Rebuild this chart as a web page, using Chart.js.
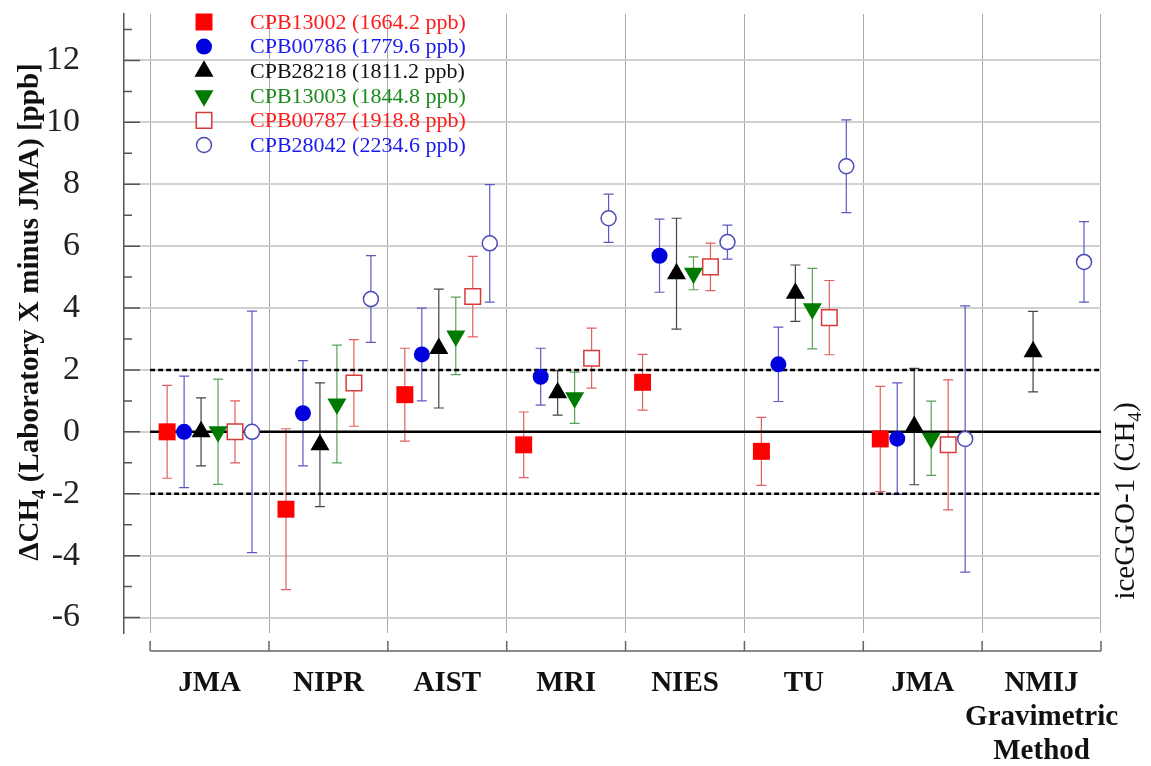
<!DOCTYPE html>
<html>
<head>
<meta charset="utf-8">
<script src="https://cdn.jsdelivr.net/npm/chart.js@4.4.1/dist/chart.umd.min.js"></script>
<style>
  html, body { margin: 0; padding: 0; background: #fff; }
  #wrap { width: 1151px; height: 766px; }
</style>
</head>
<body>
<div id="wrap"><canvas id="chart" width="1151" height="766"></canvas></div>
<script>
// Categories (laboratories) and axis ticks
const groupLabels = [['JMA'], ['NIPR'], ['AIST'], ['MRI'], ['NIES'], ['TU'], ['JMA'], ['NMIJ', 'Gravimetric', 'Method']];
const yTickValues = [-6, -4, -2, 0, 2, 4, 6, 8, 10, 12];
const yMinorValues = [-5, -3, -1, 1, 3, 5, 7, 9, 11, 13];
const refLevels = [0, 2, -2];

// Cylinder names
const cylinderNames = [
    'CPB13002 (1664.2 ppb)',
    'CPB00786 (1779.6 ppb)',
    'CPB28218 (1811.2 ppb)',
    'CPB13003 (1844.8 ppb)',
    'CPB00787 (1918.8 ppb)',
    'CPB28042 (2234.6 ppb)'
];

// Differences (ppb) per laboratory, and their uncertainties
const cpb13002 = [0, -2.5, 1.2, -0.42, 1.6, -0.63, -0.23, null];
const cpb13002Unc = [1.5, 2.6, 1.5, 1.06, 0.9, 1.1, 1.7, null];
const cpb00786 = [0, 0.6, 2.5, 1.78, 5.69, 2.18, -0.22, null];
const cpb00786Unc = [1.8, 1.7, 1.5, 0.92, 1.18, 1.2, 1.8, null];
const cpb28218 = [0, -0.42, 2.69, 1.26, 5.11, 4.48, 0.17, 2.59];
const cpb28218Unc = [1.1, 2.0, 1.92, 0.72, 1.79, 0.91, 1.88, 1.3];
const cpb13003 = [0, 0.9, 3.1, 1.1, 5.12, 3.98, -0.21, null];
const cpb13003Unc = [1.7, 1.9, 1.25, 0.83, 0.53, 1.3, 1.2, null];
const cpb00787 = [0, 1.58, 4.37, 2.38, 5.33, 3.69, -0.42, null];
const cpb00787Unc = [1.0, 1.4, 1.3, 0.97, 0.77, 1.2, 2.1, null];
const cpb28042 = [0, 4.29, 6.09, 6.9, 6.13, 8.58, -0.23, 5.49];
const cpb28042Unc = [3.9, 1.4, 1.9, 0.78, 0.55, 1.5, 4.3, 1.3];

const SERIF = "'Liberation Serif', 'Times New Roman', serif";

const series = [
    { name: cylinderNames[0], values: cpb13002, unc: cpb13002Unc, shape: 'rect', radius: 12, rotation: 0, fill: '#ff0000', edge: '#ff0000', bar: '#e06060', text: '#ff1a1a' },
    { name: cylinderNames[1], values: cpb00786, unc: cpb00786Unc, shape: 'circle', radius: 8, rotation: 0, fill: '#0000dd', edge: '#0000dd', bar: '#5a5ac0', text: '#1a1aee' },
    { name: cylinderNames[2], values: cpb28218, unc: cpb28218Unc, shape: 'triangle', radius: 11, rotation: 0, fill: '#000000', edge: '#000000', bar: '#444444', text: '#111111' },
    { name: cylinderNames[3], values: cpb13003, unc: cpb13003Unc, shape: 'triangle', radius: 11, rotation: 180, fill: '#007a00', edge: '#007a00', bar: '#5aa05a', text: '#1a8a1a' },
    { name: cylinderNames[4], values: cpb00787, unc: cpb00787Unc, shape: 'rect', radius: 11, rotation: 0, fill: '#ffffff', edge: '#d83a3a', bar: '#e06060', text: '#ff1a1a' },
    { name: cylinderNames[5], values: cpb28042, unc: cpb28042Unc, shape: 'circle', radius: 7.5, rotation: 0, fill: '#ffffff', edge: '#4a4ab8', bar: '#5a5ac0', text: '#1a1aee' }
];

const slots = series.length + 1;
const nGroups = groupLabels.length;

const pointSets = series.map((s, k) => ({
    label: s.name,
    data: s.values.map((v, g) => ({ x: g + (k + 1) / slots, y: v })),
    unc: s.unc,
    barColor: s.bar,
    pointStyle: s.shape,
    pointRadius: s.radius,
    pointRotation: s.rotation,
    pointBackgroundColor: s.fill,
    pointBorderColor: s.edge,
    pointBorderWidth: s.fill === '#ffffff' ? 1.5 : 0,
    showLine: false
}));

const lineSets = refLevels.map(level => ({
    label: 'ref' + level,
    data: [{ x: 0, y: level }, { x: nGroups, y: level }],
    showLine: true,
    borderColor: '#000',
    borderWidth: 2.5,
    borderDash: level === 0 ? [] : [5, 3],
    pointRadius: 0
}));

// text rotated to read bottom-to-top, with subscript parts
function drawRotatedSub(ctx, cx, cy, parts, font, subFont) {
    ctx.save();
    ctx.translate(cx, cy);
    ctx.rotate(-Math.PI / 2);
    ctx.textBaseline = 'alphabetic';
    ctx.textAlign = 'left';
    let total = 0;
    parts.forEach(p => {
        ctx.font = p[1] ? subFont : font;
        total += ctx.measureText(p[0]).width;
    });
    let x = -total / 2;
    parts.forEach(p => {
        ctx.font = p[1] ? subFont : font;
        ctx.fillText(p[0], x, p[1] ? 7 : 0);
        x += ctx.measureText(p[0]).width;
    });
    ctx.restore();
}

const decorations = {
    id: 'decorations',
    beforeDatasetsDraw(chart) {
        const { ctx, scales: { y } } = chart;
        ctx.save();
        ctx.lineWidth = 1.2;
        chart.data.datasets.forEach((ds, i) => {
            if (!ds.unc) return;
            const meta = chart.getDatasetMeta(i);
            meta.data.forEach((pt, j) => {
                const v = ds.data[j].y;
                const e = ds.unc[j];
                if (v == null || e == null || !isFinite(pt.x)) return;
                const top = y.getPixelForValue(v + e);
                const bot = y.getPixelForValue(v - e);
                ctx.strokeStyle = ds.barColor;
                ctx.beginPath();
                ctx.moveTo(pt.x, top); ctx.lineTo(pt.x, bot);
                ctx.moveTo(pt.x - 5, top); ctx.lineTo(pt.x + 5, top);
                ctx.moveTo(pt.x - 5, bot); ctx.lineTo(pt.x + 5, bot);
                ctx.stroke();
            });
        });
        ctx.restore();
    },
    afterDraw(chart) {
        const { ctx, chartArea, scales: { x, y } } = chart;
        ctx.save();

        // inward ticks on the left axis
        ctx.strokeStyle = '#555';
        ctx.lineWidth = 1.5;
        ctx.beginPath();
        yTickValues.forEach(v => {
            const py = y.getPixelForValue(v);
            ctx.moveTo(chartArea.left, py); ctx.lineTo(chartArea.left + 16, py);
        });
        yMinorValues.forEach(v => {
            const py = y.getPixelForValue(v);
            ctx.moveTo(chartArea.left, py); ctx.lineTo(chartArea.left + 8, py);
        });
        ctx.stroke();

        // detached category axis
        const base = chartArea.bottom + 18;
        ctx.strokeStyle = '#666';
        ctx.lineWidth = 1.5;
        ctx.beginPath();
        ctx.moveTo(x.getPixelForValue(0), base);
        ctx.lineTo(x.getPixelForValue(nGroups), base);
        for (let g = 0; g <= nGroups; g++) {
            const px = x.getPixelForValue(g);
            ctx.moveTo(px, base); ctx.lineTo(px, base - 10);
        }
        ctx.stroke();

        // axis titles
        ctx.fillStyle = '#111';
        drawRotatedSub(ctx, 38, 312,
            [['\u0394CH', false], ['4', true], [' (Laboratory X minus JMA) [ppb]', false]],
            'bold 29px ' + SERIF, 'bold 19px ' + SERIF);
        drawRotatedSub(ctx, 1134, 501,
            [['iceGGO-1 (CH', false], ['4', true], [')', false]],
            '29px ' + SERIF, '19px ' + SERIF);

        // legend
        const lx = chartArea.left + 80;
        const ly = chartArea.top + 8;
        series.forEach((s, k) => {
            const py = ly + k * 24.6;
            ctx.fillStyle = s.fill;
            ctx.strokeStyle = s.edge;
            ctx.lineWidth = 1.5;
            Chart.helpers.drawPoint(ctx, {
                pointStyle: s.shape, radius: s.radius, rotation: s.rotation,
                borderWidth: s.fill === '#ffffff' ? 1.5 : 0
            }, lx, py);
            ctx.fillStyle = s.text;
            ctx.font = '22px ' + SERIF;
            ctx.textAlign = 'left';
            ctx.textBaseline = 'middle';
            ctx.fillText(s.name, lx + 46, py + 1);
        });
        ctx.restore();
    }
};

new Chart(document.getElementById('chart'), {
    type: 'scatter',
    data: { datasets: [...pointSets, ...lineSets] },
    options: {
        responsive: false,
        animation: false,
        events: [],
        layout: { padding: { top: 14, right: 50, bottom: 0, left: 0 } },
        plugins: { legend: { display: false }, tooltip: { enabled: false } },
        scales: {
            x: {
                type: 'linear',
                min: -0.22,
                max: nGroups,
                afterBuildTicks: scale => {
                    scale.ticks = groupLabels.map((l, g) => ({ value: g + 0.5 }));
                },
                afterFit: scale => {
                    scale.height = 133;
                    scale.paddingLeft = 0;
                    scale.paddingRight = 0;
                    scale.paddingTop = 0;
                    scale.paddingBottom = 0;
                },
                grid: { offset: true, color: '#a8a8a8', lineWidth: 1, drawTicks: false },
                border: { display: false },
                ticks: {
                    autoSkip: false,
                    maxRotation: 0,
                    padding: 33,
                    color: '#111',
                    font: { family: SERIF, size: 29, weight: 'bold', lineHeight: 1.18 },
                    callback: (v, i) => groupLabels[i]
                }
            },
            y: {
                min: -6.5,
                max: 13.5,
                afterBuildTicks: scale => {
                    scale.ticks = yTickValues.map(v => ({ value: v }));
                },
                afterFit: scale => {
                    scale.width = 124;
                    scale.paddingTop = 0;
                    scale.paddingBottom = 0;
                    scale.paddingLeft = 0;
                    scale.paddingRight = 0;
                },
                grid: { color: '#d0d0d0', lineWidth: 2, drawTicks: false },
                border: { display: true, color: '#555', width: 1.5 },
                ticks: {
                    padding: 44,
                    color: '#222',
                    font: { family: SERIF, size: 34 },
                    callback: v => String(v)
                }
            }
        }
    },
    plugins: [decorations]
});
</script>
</body>
</html>
